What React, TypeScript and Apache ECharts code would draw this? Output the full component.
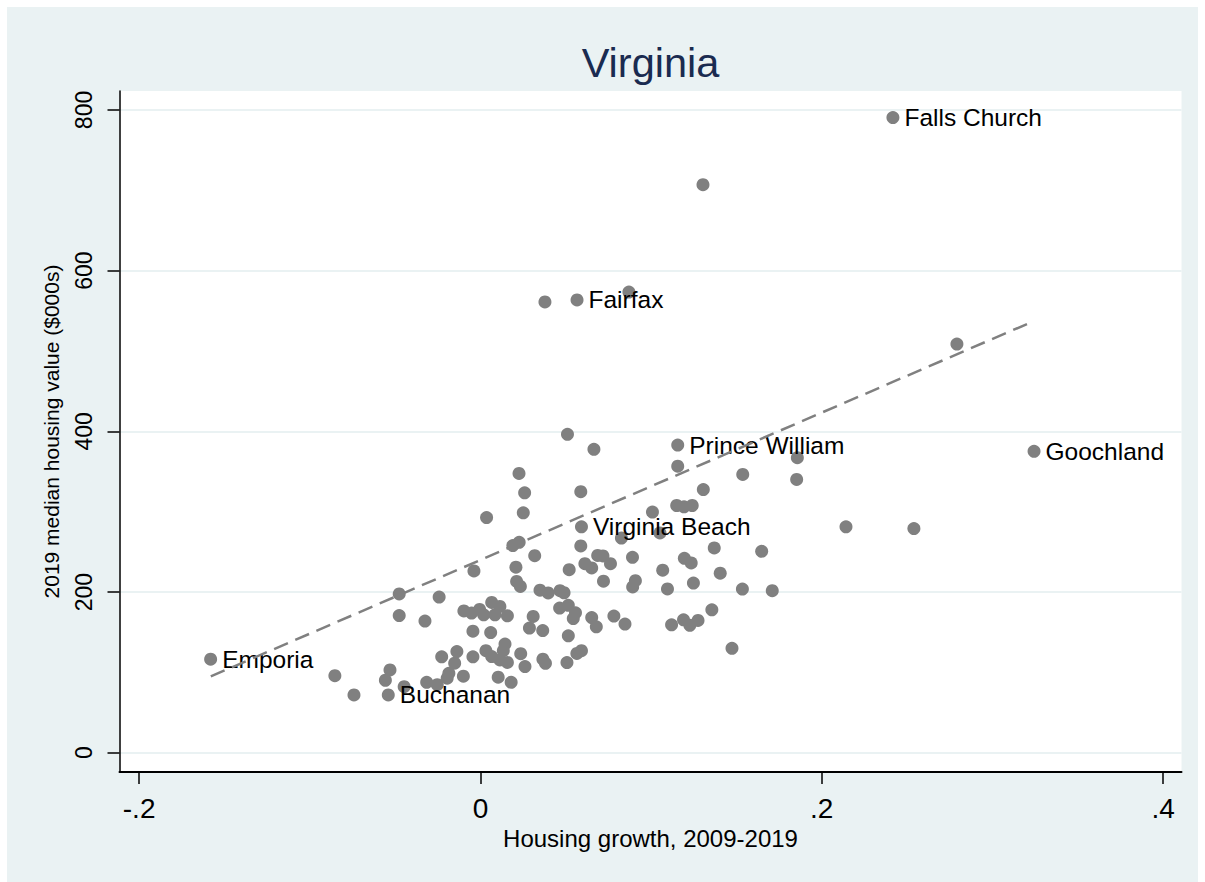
import { useEffect, useRef } from 'react';
import * as echarts from 'echarts';

// Housing growth 2009-2019 (x) and 2019 median housing value in $000s (y)
const growth = [
  0.2417, 0.1304, 0.0870, 0.0378, 0.0566, 0.2792, 0.3244, 0.1156, 0.0510, 0.0665,
  0.1156, 0.1537, 0.1857, 0.1853, 0.0226, 0.0259, 0.0588, 0.1306, 0.0036, 0.0251,
  0.1008, 0.1150, 0.1193, 0.1241, 0.2142, 0.2540, 0.0592, 0.0826, 0.1052, 0.0190,
  0.0227, 0.0318, 0.0588, 0.1370, 0.1648, 0.0687, 0.0718, 0.0612, 0.0652, 0.0762,
  0.0891, 0.1068, 0.1195, 0.1235, 0.1405, 0.0520, 0.0208, -0.0038, 0.0721, 0.0908,
  0.0892, 0.1096, 0.1248, 0.1535, 0.1710, 0.0212, 0.0234, 0.0349, 0.0397, 0.0466,
  0.0490, -0.0476, -0.0242, -0.0476, -0.0325, -0.0097, -0.0052, -0.0005, 0.0019, 0.0066,
  0.0114, 0.0085, 0.0158, 0.0309, 0.0287, 0.0365, 0.0464, 0.0515, 0.0557, 0.0544,
  0.0652, 0.0679, 0.0782, 0.0847, 0.0515, -0.0044, 0.0060, 0.1120, 0.1190, 0.1227,
  0.1275, 0.1356, 0.1474, -0.0227, -0.0138, -0.0151, -0.0044, 0.0032, 0.0066, 0.0144,
  0.0134, 0.0114, 0.0158, 0.0236, 0.0261, 0.0366, 0.0381, 0.0507, 0.0565, 0.0592,
  -0.0185, -0.0195, -0.0100, 0.0104, 0.0180, -0.0530, -0.0557, -0.0540, -0.0315, -0.0253,
  -0.0447, -0.0853, -0.0741, -0.1581,
];
const value = [
  790.5, 707, 573.4, 561, 563.5, 508.6, 375.1, 382.9, 396.3, 377.6,
  356.7, 346.4, 367.2, 340.1, 347.6, 323.5, 324.9, 327.6, 292.7, 298.6,
  299.6, 307.7, 306.1, 307.7, 281.1, 279.0, 281.1, 267.1, 273.6, 257.8,
  261.9, 245.3, 257.4, 254.9, 250.7, 245.5, 244.9, 235.3, 230.0, 235.3,
  243.2, 227.2, 241.9, 236.2, 223.5, 227.8, 230.9, 226.2, 213.5, 214.1,
  206.4, 203.9, 211.2, 203.7, 201.6, 213.2, 207.0, 202.3, 198.8, 201.6,
  199.1, 197.6, 193.8, 170.7, 163.9, 176.4, 173.8, 178.3, 171.7, 187.0,
  182.0, 171.7, 170.4, 169.6, 155.1, 152.0, 180.0, 183.5, 174.2, 166.9,
  168.2, 156.7, 170.1, 160.1, 145.5, 151.3, 149.6, 159.2, 165.4, 158.6,
  164.6, 177.9, 130.0, 119.3, 125.9, 111.4, 119.3, 127.0, 119.7, 135.3,
  127.0, 115.5, 112.4, 123.3, 107.2, 116.4, 111.2, 112.2, 123.6, 127.0,
  98.9, 92.7, 95.2, 94.0, 87.7, 103.1, 90.2, 71.9, 87.7, 84.7,
  82.2, 95.9, 71.9, 116.4,
];
const names = [
  'Falls Church', '', '', '', 'Fairfax', '', 'Goochland', 'Prince William', '', '',
  '', '', '', '', '', '', '', '', '', '',
  '', '', '', '', '', '', 'Virginia Beach', '', '', '',
  '', '', '', '', '', '', '', '', '', '',
  '', '', '', '', '', '', '', '', '', '',
  '', '', '', '', '', '', '', '', '', '',
  '', '', '', '', '', '', '', '', '', '',
  '', '', '', '', '', '', '', '', '', '',
  '', '', '', '', '', '', '', '', '', '',
  '', '', '', '', '', '', '', '', '', '',
  '', '', '', '', '', '', '', '', '', '',
  '', '', '', '', '', '', '', 'Buchanan', '', '',
  '', '', '', 'Emporia',
];

// Linear fit line (endpoints)
const fitX = [-0.158, 0.324];
const fitY = [95, 537];

const xTicks = [-0.2, 0, 0.2, 0.4];
const xTickLabels = ['-.2', '0', '.2', '.4'];
const yTicks = [0, 200, 400, 600, 800];
const yTickLabels = ['0', '200', '400', '600', '800'];

const FONT = '"Liberation Sans", Arial, Helvetica, sans-serif';

export default function App() {
  const ref = useRef<HTMLDivElement>(null);

  useEffect(() => {
    if (!ref.current) return;
    const chart = echarts.init(ref.current, null, { renderer: 'svg' });
    const labelOf = (v: number, ticks: number[], labels: string[]) => {
      const i = ticks.findIndex((t) => Math.abs(t - v) < 1e-9);
      return i >= 0 ? labels[i] : '';
    };
    chart.setOption({
      animation: false,
      backgroundColor: 'transparent',
      title: {
        text: 'Virginia',
        left: 650.5,
        top: 41,
        padding: 0,
        textAlign: 'center',
        textStyle: { color: '#1a2b50', fontSize: 41.5, fontWeight: 'normal', fontFamily: FONT },
      },
      grid: {
        left: 119.5,
        right: 23.5,
        top: 91,
        bottom: 110,
        show: true,
        backgroundColor: '#ffffff',
        borderWidth: 0,
      },
      xAxis: {
        type: 'value',
        min: -0.2115,
        max: 0.4108,
        splitNumber: 3,
        axisLine: { show: true, onZero: false, lineStyle: { color: '#000', width: 2 } },
        axisTick: { show: true, length: 12, customValues: xTicks, lineStyle: { color: '#000', width: 1.5 } },
        axisLabel: {
          customValues: xTicks,
          formatter: (v: number) => labelOf(v, xTicks, xTickLabels),
          fontSize: 28,
          color: '#000',
          margin: 22,
          fontFamily: FONT,
        },
        splitLine: { show: false },
        name: 'Housing growth, 2009-2019',
        nameLocation: 'middle',
        nameGap: 47,
        nameTextStyle: { fontSize: 24, color: '#000', fontFamily: FONT },
      },
      yAxis: {
        type: 'value',
        min: -24,
        max: 823.6,
        splitNumber: 4,
        axisLine: { show: true, onZero: false, lineStyle: { color: '#000', width: 1.5 } },
        axisTick: { show: true, length: 12, customValues: yTicks, lineStyle: { color: '#000', width: 1.5 } },
        axisLabel: {
          customValues: yTicks,
          formatter: (v: number) => labelOf(v, yTicks, yTickLabels),
          rotate: 90,
          fontSize: 23,
          color: '#000',
          margin: 24,
          fontFamily: FONT,
        },
        splitLine: { show: true, lineStyle: { color: '#EAF2F3', width: 2 } },
        name: '2019 median housing value ($000s)',
        nameLocation: 'middle',
        nameRotate: 90,
        nameGap: 58,
        nameTextStyle: { fontSize: 21, color: '#000', fontFamily: FONT },
      },
      series: [
        {
          type: 'scatter',
          data: growth.map((g, i) => [g, value[i], names[i]]),
          symbol: 'circle',
          symbolSize: 13,
          itemStyle: { color: '#808080', opacity: 1 },
          label: {
            show: true,
            position: 'right',
            distance: 5,
            formatter: (p: any) => p.data[2],
            fontSize: 24.5,
            color: '#000',
            fontFamily: FONT,
          },
          emphasis: { disabled: true },
        },
        {
          type: 'line',
          data: fitX.map((x, i) => [x, fitY[i]]),
          symbol: 'none',
          lineStyle: { color: '#808080', width: 2.5, type: [15, 8] },
          emphasis: { disabled: true },
        },
      ],
    });
    return () => chart.dispose();
  }, []);

  return (
    <div style={{ position: 'fixed', left: 0, top: 0, width: 1205, height: 882, background: '#ffffff' }}>
      <div style={{ position: 'absolute', left: 7, top: 7, right: 7, bottom: 0, background: '#EAF2F3' }} />
      <div ref={ref} style={{ position: 'absolute', left: 0, top: 0, width: 1205, height: 882 }} />
    </div>
  );
}
